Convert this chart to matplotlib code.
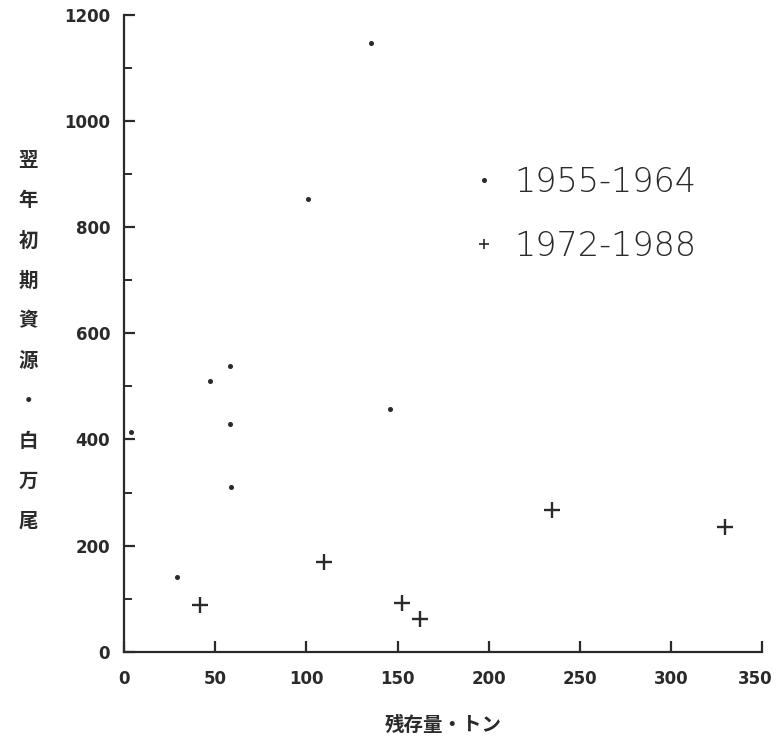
import matplotlib
matplotlib.use('Agg')
import matplotlib.pyplot as plt
import matplotlib.transforms as mtrans
from matplotlib.lines import Line2D

# 1955-1964 (dots)
x_early = [135.7, 101.0, 58.1, 47.1, 58.1, 3.8, 58.6, 145.8, 29.0]
y_early = [1148, 853, 539, 510, 430, 415, 310, 457, 140]
# 1972-1988 (crosses)
x_late = [41.6, 109.8, 152.5, 162.2, 234.7, 329.3]
y_late = [89, 170, 91, 62, 267, 236]

labels = ['1955-1964', '1972-1988']
x_ticks = [0, 50, 100, 150, 200, 250, 300, 350]
y_ticks = [0, 200, 400, 600, 800, 1000, 1200]
y_minor = [100, 300, 500, 700, 900, 1100]
xlabel = '残存量・トン'
ylabel = '翌年初期資源・白万尾'

ink = '#2a2a2a'
cjk = ['Noto Sans CJK JP', 'DejaVu Sans']

fig = plt.figure(figsize=(7.78, 7.39), dpi=100)
ax = fig.add_axes([0.1594, 0.1181, 0.8204, 0.8616])

ax.plot(x_early, y_early, 'o', ms=2.6, color=ink, mec=ink)
ax.plot(x_late, y_late, '+', ms=11, mew=1.7, color=ink)

ax.set_xlim(0, 350)
ax.set_ylim(0, 1200)
ax.set_xticks(x_ticks)
ax.set_yticks(y_ticks)
ax.set_yticks(y_minor, minor=True)

for s in ['top', 'right']:
    ax.spines[s].set_visible(False)
for s in ['left', 'bottom']:
    ax.spines[s].set_linewidth(1.6)
    ax.spines[s].set_color(ink)

ax.tick_params(axis='both', which='major', direction='in', length=8, width=1.6,
               color=ink, labelcolor=ink, labelsize=12)
ax.tick_params(axis='y', which='minor', direction='in', length=6, width=1.4, color=ink)
ax.tick_params(axis='x', pad=13)
ax.tick_params(axis='y', pad=10)
for t in ax.get_xticklabels() + ax.get_yticklabels():
    t.set_fontweight('bold')
# last x label sits a bit left of its tick, as in the scan
last = ax.get_xticklabels()[-1]
last.set_transform(last.get_transform() + mtrans.ScaledTranslation(-5 / 72, 0, fig.dpi_scale_trans))

# axis titles
ax.set_xlabel(xlabel, family=cjk, fontsize=14, fontweight='bold', color=ink, labelpad=20)
fig.text(0.036, 0.5386, '\n'.join(ylabel), family=cjk, fontsize=14, fontweight='bold',
         color=ink, ha='center', va='center', linespacing=2.4)

handles = [
    Line2D([], [], ls='none', marker='o', ms=2.6, color=ink),
    Line2D([], [], ls='none', marker='+', ms=7, mew=1.2, color=ink),
]
leg = ax.legend(handles, labels, loc='upper left', bbox_to_anchor=(0.511, 0.789),
                frameon=False, fontsize=24, labelspacing=0.92, handlelength=1.0,
                handletextpad=0.41, borderpad=0)
for t in leg.get_texts():
    t.set_color(ink)
    t.set_fontweight('light')

fig.savefig('out.png', dpi=100, facecolor='white')
